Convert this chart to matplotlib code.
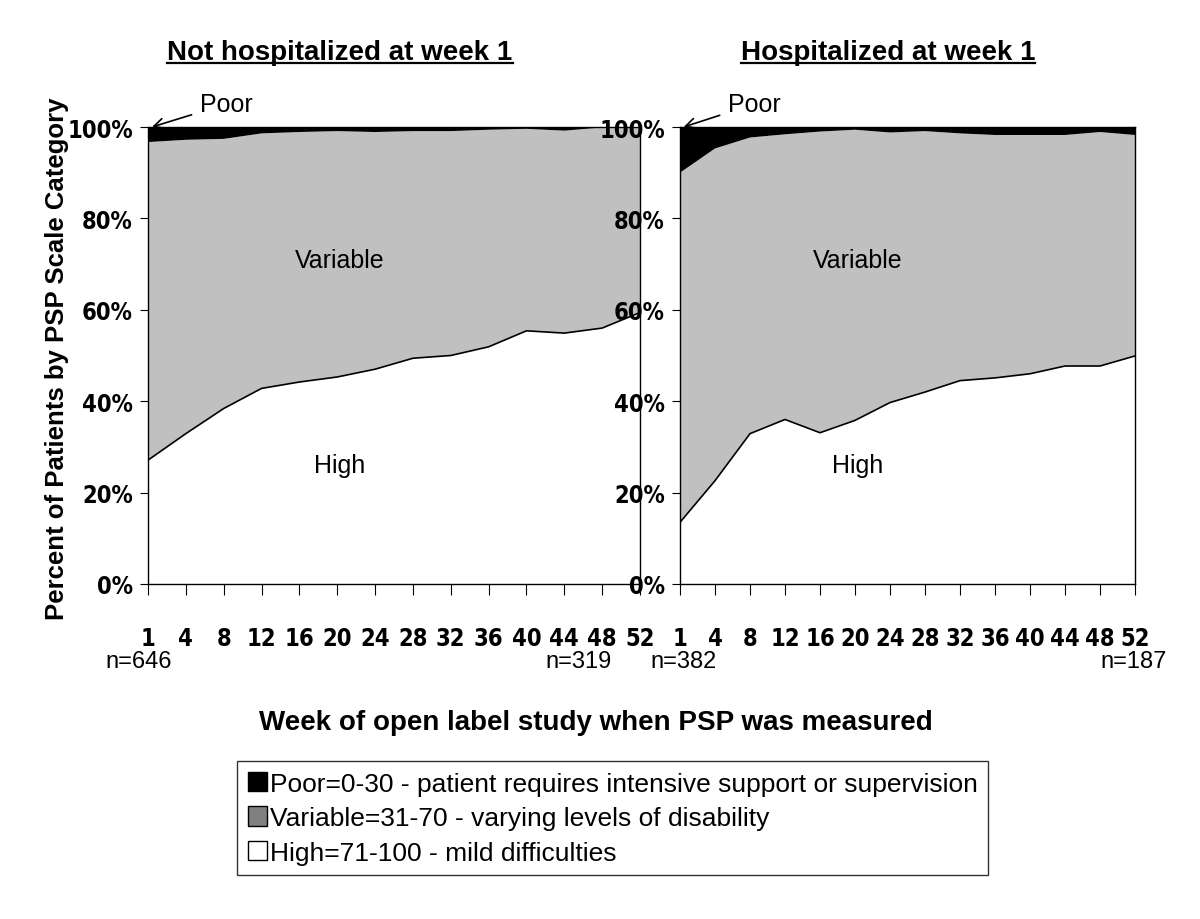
import numpy as np
import matplotlib
matplotlib.use("Agg")
import matplotlib.pyplot as plt
from matplotlib.patches import Patch
from matplotlib import font_manager

# week labels on the x axis
weeks = ["1", "4", "8", "12", "16", "20", "24", "28", "32", "36", "40", "44", "48", "52"]

# percent of patients
high_not_hosp = [27.1, 32.9, 38.4, 42.8, 44.2, 45.3, 47.0, 49.4, 50.0, 51.9, 55.4, 54.9, 56.0, 59.4]
poor_not_hosp = [3.3, 2.8, 2.6, 1.4, 1.1, 0.9, 1.1, 0.9, 0.9, 0.6, 0.4, 0.8, 0.1, 0.1]
high_hosp = [13.5, 22.6, 32.9, 36.0, 33.1, 35.8, 39.7, 42.0, 44.5, 45.1, 46.0, 47.7, 47.7, 49.9]
poor_hosp = [10.0, 4.7, 2.3, 1.6, 1.0, 0.6, 1.2, 0.9, 1.4, 1.75, 1.75, 1.75, 1.1, 1.75]

n_labels = [("n=646", "n=319"), ("n=382", "n=187")]
titles = ["Not hospitalized at week 1", "Hospitalized at week 1"]

sans = "Liberation Sans"
plt.rcParams['font.family'] = [sans, 'DejaVu Sans']

# tick labels use a condensed bold face when one is there
have_cond = any(f.name == "DejaVu Sans" and "condensed" in str(f.stretch) for f in font_manager.fontManager.ttflist)
tick_kw = dict(fontfamily="DejaVu Sans", fontweight="bold",
               fontstretch="condensed" if have_cond else "normal")
xsize = 17 if have_cond else 14
ysize = 17 if have_cond else 14

fig = plt.figure(figsize=(12, 9.2), dpi=100)
ax1 = fig.add_axes([148/1200, 1-585/920, 492/1200, 457/920])
ax2 = fig.add_axes([680/1200, 1-585/920, 455/1200, 457/920])

panels = [(ax1, high_not_hosp, poor_not_hosp), (ax2, high_hosp, poor_hosp)]
x = np.arange(len(weeks))
for i, (ax, high, poor) in enumerate(panels):
    high = np.array(high)
    poor = np.array(poor)
    variable = 100 - high - poor
    ax.stackplot(x, high, variable, poor, colors=["white", "#c0c0c0", "black"], linewidth=0)
    ax.plot(x, high, color="black", lw=1.2)
    ax.set_xlim(0, len(weeks) - 1)
    ax.set_ylim(0, 100)
    ax.set_xticks(x)
    ax.set_xticklabels(weeks, fontsize=xsize, **tick_kw)
    ax.set_yticks(np.arange(0, 101, 20))
    ax.set_yticklabels([f"{v}%" for v in range(0, 101, 20)], fontsize=ysize, **tick_kw)
    ax.tick_params(axis="x", direction="out", length=8, pad=22)
    ax.tick_params(axis="y", direction="out", length=6, pad=5)
    for s in ax.spines.values():
        s.set_linewidth(1.0)
    ax.text(0.39, 0.71, "Variable", transform=ax.transAxes, ha="center", va="center", fontsize=18)
    ax.text(0.39, 0.26, "High", transform=ax.transAxes, ha="center", va="center", fontsize=18)
    ax.annotate("Poor", xy=(0.008, 1.0), xytext=(0.105, 1.05), xycoords="axes fraction",
                textcoords="axes fraction", fontsize=18, va="center", ha="left",
                arrowprops=dict(arrowstyle="->", color="black", lw=1.2, shrinkA=4, shrinkB=0),
                annotation_clip=False)

fig.text(105/1200, 1-662/920, n_labels[0][0], fontsize=17, va="center", ha="left")
fig.text(612/1200, 1-662/920, n_labels[0][1], fontsize=17, va="center", ha="right")
fig.text(650/1200, 1-662/920, n_labels[1][0], fontsize=17, va="center", ha="left")
fig.text(1167/1200, 1-662/920, n_labels[1][1], fontsize=17, va="center", ha="right")

fig.text(57/1200, 1-359/920, "Percent of Patients by PSP Scale Category", rotation=90,
         fontsize=18.5, fontweight="bold", ha="center", va="center")
fig.text(596/1200, 1-723/920, "Week of open label study when PSP was measured",
         fontsize=20, fontweight="bold", ha="center", va="center")

title_objs = []
for cx, t in zip([340, 888], titles):
    title_objs.append(fig.text(cx/1200, 1-53/920, t, fontsize=20, fontweight="bold",
                               ha="center", va="center"))

handles = [Patch(facecolor="black", edgecolor="black"),
           Patch(facecolor="#808080", edgecolor="black"),
           Patch(facecolor="white", edgecolor="black")]
labels = ["Poor=0-30 - patient requires intensive support or supervision",
          "Variable=31-70 - varying levels of disability",
          "High=71-100 - mild difficulties"]
leg = fig.legend(handles, labels, loc="upper left", bbox_to_anchor=(237/1200, 1-762/920),
                 frameon=True, fancybox=False, edgecolor="black", fontsize=19,
                 handlelength=0.75, handleheight=0.75, handletextpad=0.1,
                 borderpad=0.4, labelspacing=0.4, borderaxespad=0)
leg.get_frame().set_linewidth(1.0)

# underline the titles
fig.canvas.draw()
r = fig.canvas.get_renderer()
for t in title_objs:
    bb = t.get_window_extent(r).transformed(fig.transFigure.inverted())
    fig.add_artist(plt.Line2D([bb.x0, bb.x1], [bb.y0 + 0.002, bb.y0 + 0.002],
                              transform=fig.transFigure, color="black", lw=1.6))

fig.savefig("out.png", dpi=100)
